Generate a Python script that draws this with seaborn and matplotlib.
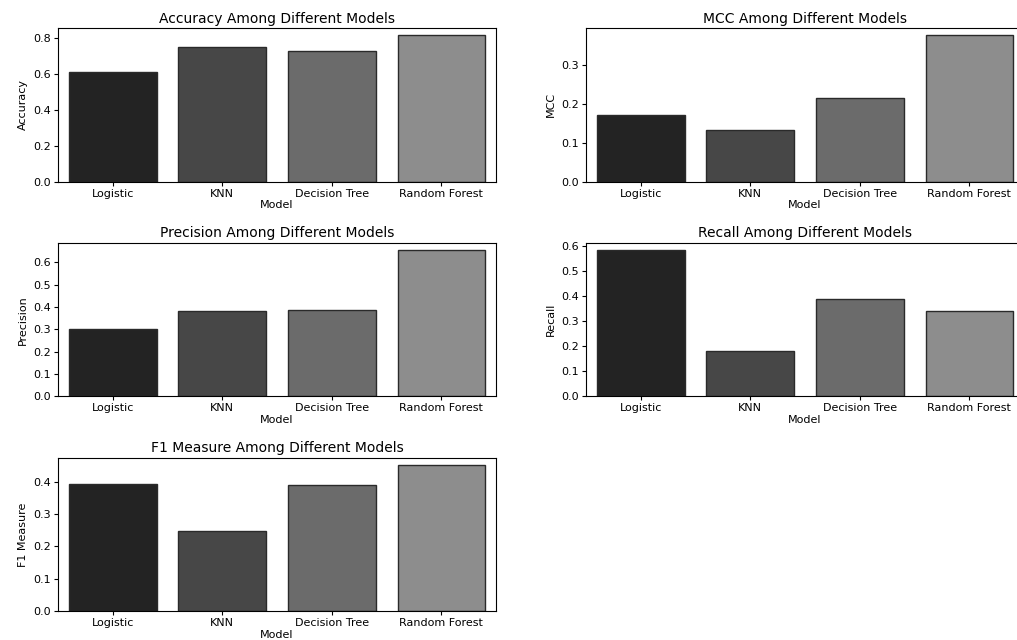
import matplotlib
matplotlib.use("Agg")
import matplotlib.pyplot as plt
from matplotlib.ticker import MultipleLocator
import seaborn as sns
import pandas as pd

models = ["Logistic", "KNN", "Decision Tree", "Random Forest"]
accuracy = [0.611, 0.751, 0.729, 0.813]
mcc = [0.172, 0.133, 0.214, 0.376]
precision = [0.303, 0.384, 0.386, 0.654]
recall = [0.584, 0.183, 0.391, 0.343]
f1 = [0.394, 0.248, 0.389, 0.451]

bar_colors = ["#232323", "#474747", "#6b6b6b", "#8d8d8d"]

metrics = [
    ("Accuracy", accuracy, "Accuracy Among Different Models", 0.2),
    ("MCC", mcc, "MCC Among Different Models", 0.1),
    ("Precision", precision, "Precision Among Different Models", 0.1),
    ("Recall", recall, "Recall Among Different Models", 0.1),
    ("F1 Measure", f1, "F1 Measure Among Different Models", 0.1),
]

plt.rcParams['font.family'] = ['DejaVu Sans']
fig, axes = plt.subplots(3, 2, figsize=(10.17, 6.4), dpi=100)
fig.subplots_adjust(left=0.057, right=1.007, top=0.956, bottom=0.045,
                    wspace=0.205, hspace=0.40)

flat = axes.flatten()
for ax, (name, vals, title, step) in zip(flat, metrics):
    df = pd.DataFrame({"Model": models, name: vals})
    sns.barplot(data=df, x="Model", y=name, hue="Model", palette=bar_colors,
                legend=False, ax=ax, edgecolor="#2a2a2a", linewidth=1.0,
                saturation=1)
    ax.yaxis.set_major_locator(MultipleLocator(step))
    ax.set_title(title, fontsize=10, pad=4)
    ax.set_xlabel("Model", fontsize=8, labelpad=1)
    ax.set_ylabel(name, fontsize=8)
    ax.tick_params(axis="both", labelsize=8, length=3, pad=2)

flat[5].axis("off")

fig.savefig("out.png", dpi=100)
